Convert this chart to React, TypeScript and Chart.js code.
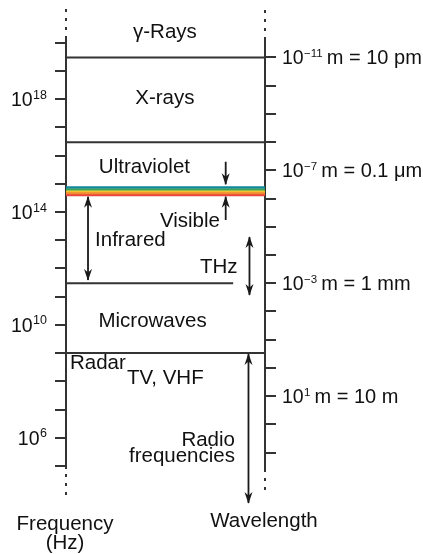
import React, { useEffect, useRef } from 'react';
import { Chart, registerables } from 'chart.js';

Chart.register(...registerables);

// ---------- data ----------
const LOG_C = Math.log10(2.998e8); // log10 of speed of light (m/s)

// frequency axis (log10 Hz) tick exponents and labelled ones
const freqTickExps = [5, 6, 7, 8, 9, 10, 11, 12, 13, 14, 15, 16, 17, 18, 19, 20];
const freqLabelExps = [18, 14, 10, 6];

// wavelength axis (log10 m) tick exponents and labelled ones
const wavelengthTickExps = [-11, -10, -9, -8, -7, -6, -5, -4, -3, -2, -1, 0, 1, 2, 3];
const wavelengthLabelExps = [-11, -7, -3, 1];
const wavelengthLabelTexts = ['m = 10 pm', 'm = 0.1 μm', 'm = 1 mm', 'm = 10 m'];

// region boundaries (log10 Hz)
const boundaryNames = ['γ-Rays / X-rays', 'X-rays / Ultraviolet', 'Infrared / Microwaves', 'Microwaves / Radar'];
const boundaryLogHz = [LOG_C + 11, LOG_C + 8, LOG_C + 3, 9];

// visible band (log10 Hz), stripes from violet/blue end to red end
const visibleTopLogHz = 14.904;
const visibleBottomLogHz = 14.568;
const visibleColors = ['#12869e', '#3aa44a', '#f2c12e', '#f28a30', '#e8473f'];

// range arrows (log10 Hz)
const arrowNames = ['Infrared', 'Visible (above)', 'Visible (below)', 'THz', 'Radio'];
const arrowFromLogHz = [14.543, 15.783, 13.717, 13.115, 8.969];
const arrowToLogHz = [11.591, 14.982, 14.543, 11.06, 3.689];
const arrowHeads = ['both', 'end', 'end', 'both', 'both'];

// ---------- layout (x in % of box width, y in log10 Hz) ----------
const Y_MIN = 4.929;
const Y_MAX = 20.167;
const boundaryEndX = [100, 100, 84, 100];
const arrowX = [11.06, 80.25, 80.25, 92.2, 91.7];

const FONT = '"Liberation Sans", Arial, Helvetica, sans-serif';
const MAIN_SIZE = 20.5;
const NUM_SIZE = 19.5;
const REST_SIZE = 20;
const TEXT_COLOR = '#111111';
const LINE_COLOR = '#333333';

const textLabels = [
  { text: 'γ-Rays', x: 49.7, y: 20.415, align: 'center' },
  { text: 'X-rays', x: 49.7, y: 18.076, align: 'center' },
  { text: 'Ultraviolet', x: 39.4, y: 15.648, align: 'center' },
  { text: 'Visible', x: 47.2, y: 13.717, align: 'left' },
  { text: 'Infrared', x: 14.6, y: 13.062, align: 'left' },
  { text: 'THz', x: 67.3, y: 12.105, align: 'left' },
  { text: 'Microwaves', x: 43.5, y: 10.191, align: 'center' },
  { text: 'Radar', x: 2.0, y: 8.703, align: 'left' },
  { text: 'TV, VHF', x: 30.65, y: 8.171, align: 'left' },
  { text: 'Radio', x: 84.9, y: 5.974, align: 'right' },
  { text: 'frequencies', x: 84.9, y: 5.39, align: 'right' },
  { text: 'Frequency', x: -0.5, y: 3.0, align: 'center' },
  { text: '(Hz)', x: -0.5, y: 2.307, align: 'center' },
  { text: 'Wavelength', x: 99.5, y: 3.104, align: 'center' },
];

function drawPow(
  ctx: CanvasRenderingContext2D,
  base: string,
  exp: string,
  rest: string,
  x: number,
  capY: number,
  align: 'left' | 'right',
  supSize: number
) {
  const baseline = capY + 0.358 * NUM_SIZE;
  ctx.font = `${NUM_SIZE}px ${FONT}`;
  const bw = ctx.measureText(base).width;
  ctx.font = `${REST_SIZE}px ${FONT}`;
  const rw = rest ? ctx.measureText(rest).width : 0;
  ctx.font = `${supSize}px ${FONT}`;
  const ew = ctx.measureText(exp).width;
  const gap = rest ? 4 : 0;
  const total = bw + 0.5 + ew + gap + rw;
  const sx = align === 'left' ? x : x - total;
  ctx.textAlign = 'left';
  ctx.textBaseline = 'alphabetic';
  ctx.font = `${NUM_SIZE}px ${FONT}`;
  ctx.fillText(base, sx, baseline);
  ctx.font = `${supSize}px ${FONT}`;
  ctx.fillText(exp, sx + bw + 0.5, baseline - 7.5);
  if (rest) {
    ctx.font = `${REST_SIZE}px ${FONT}`;
    ctx.fillText(rest, sx + bw + 0.5 + ew + gap, baseline);
  }
}

function drawHead(ctx: CanvasRenderingContext2D, tip: { x: number; y: number }, from: { x: number; y: number }) {
  const ang = Math.atan2(tip.y - from.y, tip.x - from.x);
  ctx.save();
  ctx.translate(tip.x, tip.y);
  ctx.rotate(ang);
  ctx.beginPath();
  ctx.moveTo(0.8, 0);
  ctx.lineTo(-11, -4);
  ctx.lineTo(-7.5, 0);
  ctx.lineTo(-11, 4);
  ctx.closePath();
  ctx.fill();
  ctx.restore();
}

const spectrumPlugin = {
  id: 'spectrumDecor',
  afterDraw(chart: any) {
    const ctx: CanvasRenderingContext2D = chart.ctx;
    const xs = chart.scales.x;
    const ys = chart.scales.y;
    const ca = chart.chartArea;
    ctx.save();

    // dotted axis continuations and right axis extension
    ctx.strokeStyle = LINE_COLOR;
    ctx.lineWidth = 2;
    ctx.beginPath();
    ctx.moveTo(ca.right, ca.bottom);
    ctx.lineTo(ca.right, ca.bottom + 4);
    ctx.stroke();
    ctx.setLineDash([3, 6]);
    const dotted = (x: number, y0: number, y1: number) => {
      ctx.beginPath();
      ctx.moveTo(x, y0);
      ctx.lineTo(x, y1);
      ctx.stroke();
    };
    dotted(ca.left, ca.top - 29, ca.top - 1);
    dotted(ca.right, ca.top - 28, ca.top - 1);
    dotted(ca.left, ca.bottom + 6, ca.bottom + 33);
    dotted(ca.right, ca.bottom + 10, ca.bottom + 28);
    ctx.setLineDash([]);

    // arrow heads
    ctx.fillStyle = '#1a1a1a';
    chart.data.datasets.forEach((ds: any, i: number) => {
      if (!ds.arrowHeads) return;
      const pts = chart.getDatasetMeta(i).data;
      const a = pts[0];
      const b = pts[pts.length - 1];
      if (ds.arrowHeads === 'end' || ds.arrowHeads === 'both') drawHead(ctx, b, a);
      if (ds.arrowHeads === 'start' || ds.arrowHeads === 'both') drawHead(ctx, a, b);
    });

    // region and axis titles
    ctx.fillStyle = TEXT_COLOR;
    ctx.font = `${MAIN_SIZE}px ${FONT}`;
    ctx.textBaseline = 'alphabetic';
    textLabels.forEach((l) => {
      ctx.textAlign = l.align as CanvasTextAlign;
      ctx.fillText(l.text, xs.getPixelForValue(l.x), ys.getPixelForValue(l.y) + 0.358 * MAIN_SIZE);
    });

    // frequency tick labels (left)
    const leftX = xs.getPixelForValue(-9.55);
    freqLabelExps.forEach((e) => {
      drawPow(ctx, '10', String(e), '', leftX, ys.getPixelForValue(e), 'right', 12.5);
    });

    // wavelength tick labels (right)
    const rightX = xs.getPixelForValue(108.5);
    wavelengthLabelExps.forEach((e, i) => {
      const exp = e < 0 ? '\u2212' + Math.abs(e) : String(e);
      drawPow(ctx, '10', exp, wavelengthLabelTexts[i], rightX, ys.getPixelForValue(LOG_C - e), 'left', 11.5);
    });

    ctx.restore();
  },
};

export default function App() {
  const canvasRef = useRef<HTMLCanvasElement | null>(null);

  useEffect(() => {
    document.body.style.margin = '0';
    const canvas = canvasRef.current;
    if (!canvas) return;

    const datasets: any[] = [];

    boundaryLogHz.forEach((v, i) => {
      datasets.push({
        label: boundaryNames[i],
        data: [{ x: 0, y: v }, { x: boundaryEndX[i], y: v }],
        borderColor: LINE_COLOR,
        borderWidth: 2,
        pointRadius: 0,
        clip: false,
      });
    });

    const stripeStep = (visibleTopLogHz - visibleBottomLogHz) / visibleColors.length;
    visibleColors.forEach((c, i) => {
      const v = visibleTopLogHz - stripeStep * (i + 0.5);
      datasets.push({
        label: 'Visible ' + i,
        data: [{ x: 0, y: v }, { x: 100, y: v }],
        borderColor: c,
        borderWidth: 2.2,
        pointRadius: 0,
        clip: false,
      });
    });

    arrowNames.forEach((n, i) => {
      datasets.push({
        label: n,
        data: [{ x: arrowX[i], y: arrowFromLogHz[i] }, { x: arrowX[i], y: arrowToLogHz[i] }],
        borderColor: '#1a1a1a',
        borderWidth: 1.8,
        pointRadius: 0,
        clip: false,
        arrowHeads: arrowHeads[i],
      });
    });

    const axisCommon = {
      type: 'linear' as const,
      min: Y_MIN,
      max: Y_MAX,
      grid: {
        drawOnChartArea: false,
        drawTicks: true,
        tickLength: 11,
        color: LINE_COLOR,
        lineWidth: 2,
      },
      border: { display: true, color: LINE_COLOR, width: 2 },
      ticks: { display: false },
    };

    const chart = new Chart(canvas, {
      type: 'line',
      data: { datasets },
      options: {
        responsive: false,
        animation: false,
        parsing: false as any,
        layout: { padding: { top: 38, bottom: 86, left: 0, right: 0 } },
        plugins: { legend: { display: false }, tooltip: { enabled: false } },
        events: [],
        scales: {
          x: { type: 'linear', min: 0, max: 100, display: false },
          y: {
            ...axisCommon,
            position: 'left',
            afterBuildTicks: (s: any) => {
              s.ticks = freqTickExps.map((v) => ({ value: v }));
            },
            afterFit: (s: any) => {
              s.width = 66;
            },
          },
          y2: {
            ...axisCommon,
            position: 'right',
            afterBuildTicks: (s: any) => {
              s.ticks = wavelengthTickExps.map((e) => ({ value: LOG_C - e }));
            },
            afterFit: (s: any) => {
              s.width = 158;
            },
          },
        },
      } as any,
      plugins: [spectrumPlugin],
    });

    return () => chart.destroy();
  }, []);

  return (
    <div style={{ width: 423, height: 554 }}>
      <canvas ref={canvasRef} width={423} height={554} style={{ display: 'block' }} />
    </div>
  );
}
